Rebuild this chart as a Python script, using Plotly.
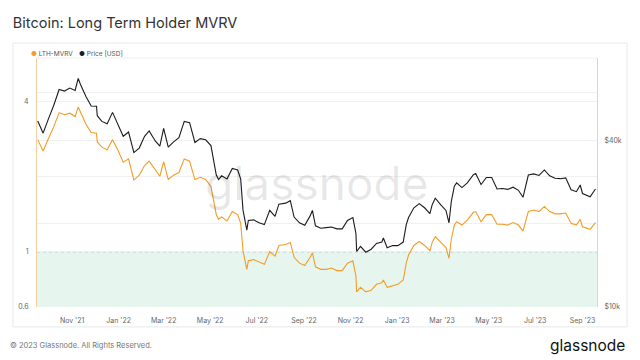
import plotly.graph_objects as go

dates = [
    "2021-09-17","2021-09-24","2021-10-01","2021-10-08","2021-10-15","2021-10-22","2021-10-29",
    "2021-11-05","2021-11-09","2021-11-12","2021-11-19","2021-11-26","2021-12-03","2021-12-04",
    "2021-12-10","2021-12-17","2021-12-24","2021-12-31",
    "2022-01-07","2022-01-14","2022-01-21","2022-01-28","2022-02-04","2022-02-10","2022-02-18",
    "2022-02-24","2022-03-01","2022-03-07","2022-03-14","2022-03-21","2022-03-28","2022-04-04",
    "2022-04-11","2022-04-18","2022-04-25","2022-05-02","2022-05-09","2022-05-12","2022-05-16",
    "2022-05-23","2022-05-30","2022-06-06","2022-06-10","2022-06-13","2022-06-18","2022-06-20",
    "2022-06-27","2022-07-04","2022-07-11","2022-07-18","2022-07-25","2022-07-30","2022-08-08",
    "2022-08-14","2022-08-19","2022-08-26","2022-09-02","2022-09-09","2022-09-12","2022-09-16",
    "2022-09-23","2022-09-30","2022-10-07","2022-10-14","2022-10-21","2022-10-28","2022-11-04",
    "2022-11-08","2022-11-09","2022-11-14","2022-11-21","2022-11-28","2022-12-05","2022-12-12",
    "2022-12-14","2022-12-19","2022-12-26",
    "2023-01-02","2023-01-09","2023-01-13","2023-01-16","2023-01-23","2023-01-30","2023-02-06",
    "2023-02-13","2023-02-16","2023-02-20","2023-02-27","2023-03-06","2023-03-10","2023-03-13",
    "2023-03-17","2023-03-20","2023-03-27","2023-04-03","2023-04-11","2023-04-14","2023-04-21",
    "2023-04-28","2023-05-05","2023-05-12","2023-05-19","2023-05-26","2023-06-02","2023-06-09",
    "2023-06-15","2023-06-20","2023-06-22","2023-06-29","2023-07-06","2023-07-13","2023-07-20",
    "2023-07-27","2023-08-03","2023-08-10","2023-08-17","2023-08-24","2023-08-29","2023-09-01",
    "2023-09-11","2023-09-18",
]

price_usd = [
    47300, 42700, 48100, 53900, 61500, 60700, 62200,
    61000, 67500, 64100, 58100, 53600, 53500, 49400,
    47100, 46200, 50800, 46300,
    41600, 43100, 36300, 37700, 41600, 43500, 40000,
    38300, 44400, 38000, 39700, 41100, 47100, 46600,
    39500, 40800, 40400, 38500, 30100, 29000, 29900,
    29100, 31800, 31400, 29100, 22500, 19000, 20600,
    20700, 20200, 19900, 22400, 21300, 23600, 23800,
    24300, 21200, 20200, 19800, 21400, 22400, 19700,
    19300, 19400, 19500, 19200, 19200, 20600, 21100,
    18500, 15900, 16600, 15800, 16200, 17000, 17200,
    17800, 16400, 16700,
    16700, 17200, 19900, 21100, 22900, 23700, 22900,
    21800, 23500, 24800, 23500, 22400, 20200, 24100,
    27400, 28200, 27100, 28200, 30200, 30500, 27800,
    29500, 29500, 26800, 26900, 26700, 27200, 26500,
    25000, 28300, 30100, 30400, 30000, 31400, 29900,
    29300, 29200, 29400, 26600, 26200, 27700, 25800,
    25100, 26800,
]

lth_mvrv = [
    2.82, 2.54, 2.85, 3.18, 3.62, 3.55, 3.60,
    3.49, 3.81, 3.62, 3.26, 3.01, 2.99, 2.76,
    2.63, 2.57, 2.82, 2.56,
    2.29, 2.36, 1.94, 2.03, 2.22, 2.31, 2.12,
    2.01, 2.30, 1.95, 2.03, 2.08, 2.36, 2.31,
    1.95, 1.99, 1.95, 1.83, 1.41, 1.35, 1.38,
    1.33, 1.45, 1.41, 1.30, 1.01, 0.85, 0.92,
    0.93, 0.91, 0.89, 1.00, 0.96, 1.06, 1.07,
    1.09, 0.95, 0.90, 0.88, 0.95, 0.99, 0.87,
    0.85, 0.85, 0.86, 0.84, 0.84, 0.90, 0.92,
    0.80, 0.69, 0.72, 0.69, 0.70, 0.74, 0.75,
    0.77, 0.72, 0.73,
    0.74, 0.77, 0.90, 0.97, 1.06, 1.10, 1.06,
    1.01, 1.09, 1.15, 1.09, 1.04, 0.94, 1.12,
    1.28, 1.32, 1.28, 1.34, 1.44, 1.45, 1.32,
    1.41, 1.41, 1.29, 1.29, 1.28, 1.31, 1.28,
    1.21, 1.37, 1.45, 1.47, 1.45, 1.52, 1.45,
    1.42, 1.42, 1.43, 1.30, 1.28, 1.35, 1.26,
    1.23, 1.31,
]

left_ticks = [0.6, 0.8, 1, 2, 4]
left_labels = ["0.6", "", "1", "", "4"]
right_ticks = [10000, 20000, 40000, 60000]
right_labels = ["$10k", "", "$40k", ""]

ORANGE = "#f39c26"
BLACK = "#1c1c1c"
FONT = "Inter"

fig = go.Figure()

fig.add_trace(go.Scatter(x=dates, y=lth_mvrv, mode="lines", name="LTH-MVRV",
                         line=dict(color=ORANGE, width=1.1), showlegend=False, yaxis="y"))
fig.add_trace(go.Scatter(x=dates, y=price_usd, mode="lines", name="Price [USD]",
                         line=dict(color=BLACK, width=1.1), showlegend=False, yaxis="y2"))

shapes = [
    # card border
    dict(type="rect", xref="paper", yref="paper", x0=-0.0429, x1=1.0536, y0=-0.08, y1=1.06,
         line=dict(color="#e8e8e8", width=1), fillcolor="rgba(0,0,0,0)", layer="below"),
    # green zone below 1
    dict(type="rect", xref="paper", yref="y", x0=0, x1=1, y0=0.6, y1=1,
         fillcolor="#e6f6ef", line=dict(width=0), layer="below"),
    # dotted line at 1
    dict(type="line", xref="paper", yref="y", x0=0, x1=1, y0=1, y1=1,
         line=dict(color="#9a9a9a", width=1, dash="dot"), layer="below"),
    # top separator
    dict(type="line", xref="paper", yref="paper", x0=0, x1=1, y0=1, y1=1,
         line=dict(color="#eeeeee", width=1)),
]

annotations = [
    dict(text="glassnode", xref="paper", yref="paper", x=0.5, y=0.5, showarrow=False,
         font=dict(family=FONT, size=46, color="rgba(0,0,0,0.09)")),
    # legend
    dict(text=f"<span style='color:{ORANGE}'>●</span> LTH-MVRV", xref="paper", yref="paper",
         x=-0.014, y=1.016, xanchor="left", yanchor="middle", showarrow=False,
         font=dict(family=FONT, size=6.5, color="#555")),
    dict(text=f"<span style='color:{BLACK}'>●</span> Price [USD]", xref="paper", yref="paper",
         x=0.072, y=1.016, xanchor="left", yanchor="middle", showarrow=False,
         font=dict(family=FONT, size=6.5, color="#555")),
    # footer
    dict(text="© 2023 Glassnode. All Rights Reserved.", xref="paper", yref="paper",
         x=-0.052, y=-0.153, xanchor="left", yanchor="middle", showarrow=False,
         font=dict(family=FONT, size=7.5, color="#777")),
    dict(text="glassnode", xref="paper", yref="paper", x=1.0536, y=-0.153,
         xanchor="right", yanchor="middle", showarrow=False,
         font=dict(family=FONT, size=15.5, color="#111")),
]

fig.update_layout(
    width=640, height=360,
    margin=dict(l=37, r=43, t=58, b=53),
    paper_bgcolor="white", plot_bgcolor="white",
    font=dict(family=FONT, size=7, color="#666"),
    title=dict(text="Bitcoin: Long Term Holder MVRV", x=0.02, xref="container", xanchor="left",
               y=0.936, yanchor="middle", font=dict(family=FONT, size=14.5, color="#333")),
    showlegend=False,
    xaxis=dict(type="date", range=["2021-09-16", "2023-09-20"],
               tickformat="%b '%y", dtick="M2", tick0="2021-11-01",
               showgrid=False, showline=False, zeroline=False,
               ticks="outside", ticklen=7, tickcolor="rgba(0,0,0,0)",
               tickfont=dict(size=7, color="#666")),
    yaxis=dict(type="log", range=[-0.2218, 0.778], tickvals=left_ticks, ticktext=left_labels,
               showgrid=True, gridcolor="#f0f0f0", zeroline=False,
               showline=True, linecolor="#f7cfa0", linewidth=1,
               ticks="outside", ticklen=6, tickcolor="rgba(0,0,0,0)",
               tickfont=dict(size=7, color="#666")),
    yaxis2=dict(type="log", range=[4, 4.903], overlaying="y", side="right",
                tickvals=right_ticks, ticktext=right_labels,
                showgrid=True, gridcolor="#f0f0f0", zeroline=False,
                showline=True, linecolor="#d6d6d6", linewidth=1,
                ticks="outside", ticklen=5, tickcolor="rgba(0,0,0,0)",
                tickfont=dict(size=7, color="#666")),
    shapes=shapes,
    annotations=annotations,
)

fig.write_html("out.html", config={"displayModeBar": False},
               post_script="document.body.style.margin='0px';")
